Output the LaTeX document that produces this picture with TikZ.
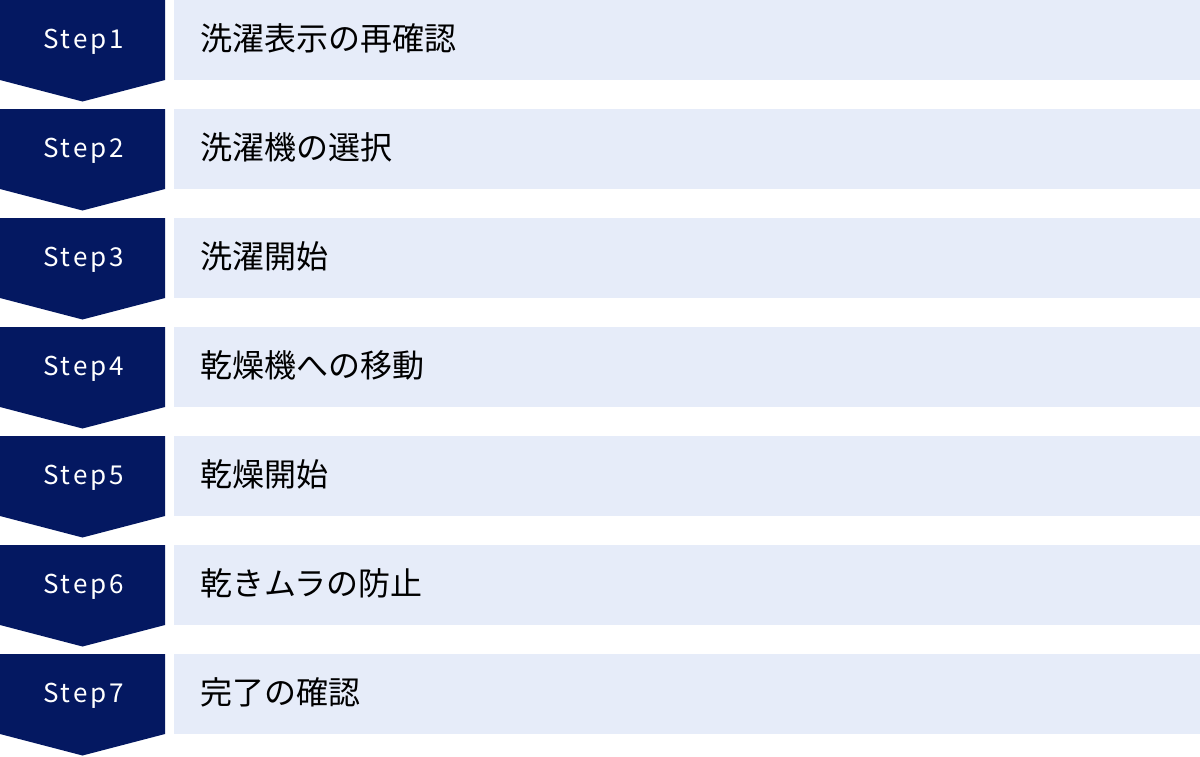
\documentclass[tikz,border=0pt]{standalone}
\usepackage{fontspec}
\setmainfont{Noto Sans}
\newfontfamily\cjk{Noto Sans CJK JP}
\newfontfamily\cjkspaced[LetterSpace=11]{Noto Sans CJK JP}
\definecolor{navy}{HTML}{041861}
\definecolor{pale}{HTML}{E6ECF9}
\tikzset{
  stepshape/.style={fill=navy, draw=none},
  labelbox/.style={fill=pale, draw=none},
  steptext/.style={text=white, font=\cjkspaced\fontsize{26}{30}\selectfont, anchor=base, inner sep=0pt},
  jptext/.style={text=black, font=\cjk\fontsize{32}{36}\selectfont, anchor=base west, inner sep=0pt}
}
\begin{document}
\begin{tikzpicture}[x=1pt,y=-1pt]
\useasboundingbox (0,0) rectangle (1200,756);
\foreach \i/\t in {1/洗濯表示の再確認,2/洗濯機の選択,3/洗濯開始,4/乾燥機への移動,5/乾燥開始,6/乾きムラの防止,7/完了の確認}{
  \pgfmathsetmacro{\y}{(\i-1)*109}
  \fill[stepshape] (0,\y) -- (165,\y) -- (165,\y+80) -- (82.5,\y+101.5) -- (0,\y+80) -- cycle;
  \fill[labelbox] (174,\y) rectangle (1200,\y+80);
  \node[steptext] (s\i) at (83.5,\y+48) {Step\i};
  \node[jptext] (t\i) at (200,\y+50) {\t};
}
\end{tikzpicture}
\end{document}
